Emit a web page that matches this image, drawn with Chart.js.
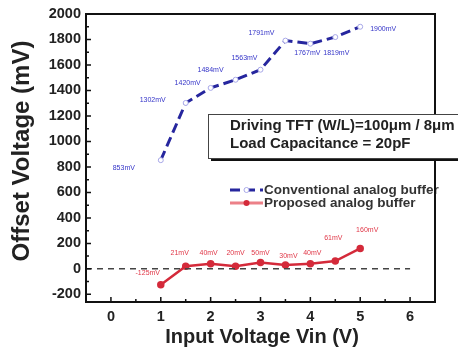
<!DOCTYPE html>
<html>
<head>
<meta charset="utf-8">
<script src="https://cdn.jsdelivr.net/npm/chart.js@4.4.0/dist/chart.umd.min.js"></script>
<style>
  html, body { margin: 0; padding: 0; background: #fff; }
  #wrap { width: 458px; height: 350px; position: relative; }
</style>
</head>
<body>
<div id="wrap"><canvas id="offsetChart"></canvas></div>
<script>
// ===== data =====
const vin = [1, 1.5, 2, 2.5, 3, 3.5, 4, 4.5, 5];
const conventional = [853, 1302, 1420, 1484, 1563, 1791, 1767, 1819, 1900];
const proposed = [-125, 21, 40, 20, 50, 30, 40, 61, 160];
const zeroLineX = [-0.5, 6];
const xTicks = [0, 1, 2, 3, 4, 5, 6];
const yTicks = [-200, 0, 200, 400, 600, 800, 1000, 1200, 1400, 1600, 1800, 2000];

// label offsets (px) relative to each point
const convOffsets = [[-37, 8], [-33, -3], [-23, -5], [-25, -10], [-16, -12], [-24, -8], [-3, 9], [1, 16], [23, 2]];
const propOffsets = [[-13, -12], [-6, -13], [-2, -11], [0, -13], [0, -9], [3, -9], [2, -11], [-2, -23], [7, -18]];

const BLUE = "#26269e";
const RED = "#d42a3a";
const FONT = "'Liberation Sans', Arial, sans-serif";

const ctx = document.getElementById("offsetChart").getContext("2d");

// ===== 画框、刻度、标注、说明框 =====
const decorPlugin = {
  id: "decor",
  afterDraw(chart) {
    const c = chart.ctx;
    const area = chart.chartArea;
    const xs = chart.scales.x, ys = chart.scales.y;
    c.save();

    // legend (sits under the frame line)
    c.textBaseline = "middle";
    c.lineWidth = 3;
    c.strokeStyle = BLUE;
    c.setLineDash([10, 5]);
    c.beginPath(); c.moveTo(230, 190); c.lineTo(263, 190); c.stroke();
    c.setLineDash([]);
    c.fillStyle = "#fff";
    c.strokeStyle = "#a8a8e8";
    c.lineWidth = 1;
    c.beginPath(); c.arc(246.5, 190, 2.5, 0, Math.PI * 2); c.fill(); c.stroke();

    c.strokeStyle = "#ec8088";
    c.lineWidth = 3;
    c.beginPath(); c.moveTo(230, 203); c.lineTo(263, 203); c.stroke();
    c.fillStyle = RED;
    c.beginPath(); c.arc(246.5, 203, 3, 0, Math.PI * 2); c.fill();

    c.fillStyle = "#333";
    c.textAlign = "left";
    c.font = "bold 13.5px " + FONT;
    c.fillText("Conventional analog buffer", 264, 190);
    c.fillText("Proposed analog buffer", 264, 203);

    // inward ticks (major + minor)
    c.strokeStyle = "#111";
    c.lineWidth = 1.5;
    c.beginPath();
    xTicks.forEach(v => {
      const px = xs.getPixelForValue(v);
      c.moveTo(px, area.bottom); c.lineTo(px, area.bottom - 5);
      const pm = xs.getPixelForValue(v + 0.5);
      if (pm < area.right - 2) { c.moveTo(pm, area.bottom); c.lineTo(pm, area.bottom - 3); }
    });
    yTicks.forEach(v => {
      const py = ys.getPixelForValue(v);
      c.moveTo(area.left, py); c.lineTo(area.left + 5, py);
      const pm = ys.getPixelForValue(v - 100);
      if (pm < area.bottom - 2) { c.moveTo(area.left, pm); c.lineTo(area.left + 3, pm); }
    });
    c.stroke();

    // frame
    c.lineWidth = 2;
    c.strokeStyle = "#111";
    c.strokeRect(area.left, area.top, area.right - area.left, area.bottom - area.top);

    // point labels
    c.font = "7px " + FONT;
    c.textAlign = "center";
    c.fillStyle = "#3434c8";
    conventional.forEach((v, i) => {
      const px = xs.getPixelForValue(vin[i]) + convOffsets[i][0];
      const py = ys.getPixelForValue(v) + convOffsets[i][1];
      c.fillText(v + "mV", px, py);
    });
    c.fillStyle = "#e03848";
    proposed.forEach((v, i) => {
      const px = xs.getPixelForValue(vin[i]) + propOffsets[i][0];
      const py = ys.getPixelForValue(v) + propOffsets[i][1];
      c.fillText(v + "mV", px, py);
    });

    // axis titles
    c.fillStyle = "#222";
    c.font = "bold 24px " + FONT;
    c.save();
    c.translate(22, 151);
    c.rotate(-Math.PI / 2);
    c.fillText("Offset Voltage (mV)", 0, 0);
    c.restore();
    c.font = "bold 20px " + FONT;
    c.fillText("Input Voltage Vin (V)", 262, 337);

    // info box with shadow
    c.fillStyle = "#111";
    c.fillRect(211, 117, 260, 44);
    c.fillStyle = "#fff";
    c.fillRect(208, 114, 260, 44);
    c.lineWidth = 1;
    c.strokeStyle = "#444";
    c.strokeRect(208.5, 114.5, 260, 44);
    c.fillStyle = "#222";
    c.textAlign = "left";
    c.font = "bold 15px " + FONT;
    c.fillText("Driving TFT (W/L)=100\u03bcm / 8\u03bcm", 230, 126);
    c.fillText("Load Capacitance = 20pF", 230, 144);

    c.restore();
  }
};

const chart = new Chart(ctx, {
  type: "line",
  data: {
    datasets: [
      {
        label: "zero",
        data: zeroLineX.map(x => ({ x, y: 0 })),
        borderColor: "#444",
        borderWidth: 1.5,
        borderDash: [6, 5],
        pointRadius: 0
      },
      {
        label: "Conventional analog buffer",
        data: vin.map((x, i) => ({ x, y: conventional[i] })),
        borderColor: BLUE,
        borderWidth: 3,
        borderDash: [10, 5],
        pointRadius: 2.5,
        pointBackgroundColor: "#fff",
        pointBorderColor: "#a8a8e8",
        pointBorderWidth: 1,
        tension: 0
      },
      {
        label: "Proposed analog buffer",
        data: vin.map((x, i) => ({ x, y: proposed[i] })),
        borderColor: RED,
        borderWidth: 2.5,
        pointRadius: 2.5,
        pointBackgroundColor: RED,
        pointBorderColor: RED,
        tension: 0
      }
    ]
  },
  options: {
    animation: false,
    responsive: true,
    maintainAspectRatio: false,
    layout: { padding: { top: 14, right: 23, left: 0, bottom: 0 } },
    plugins: { legend: { display: false }, tooltip: { enabled: false } },
    scales: {
      x: {
        type: "linear",
        min: -0.5,
        max: 6.5,
        afterBuildTicks: s => { s.ticks = xTicks.map(v => ({ value: v })); },
        afterFit: s => { s.height = 48; },
        grid: { display: false, drawTicks: false },
        border: { display: false },
        ticks: { color: "#222", padding: 6, callback: v => String(v), font: { family: FONT, size: 14.5, weight: "bold" } }
      },
      y: {
        type: "linear",
        min: -260,
        max: 2000,
        afterBuildTicks: s => { s.ticks = yTicks.map(v => ({ value: v })); },
        afterFit: s => { s.width = 86; },
        grid: { display: false, drawTicks: false },
        border: { display: false },
        ticks: { color: "#222", padding: 5, callback: v => String(v), font: { family: FONT, size: 14.5, weight: "bold" } }
      }
    }
  },
  plugins: [decorPlugin]
});
</script>
</body>
</html>
